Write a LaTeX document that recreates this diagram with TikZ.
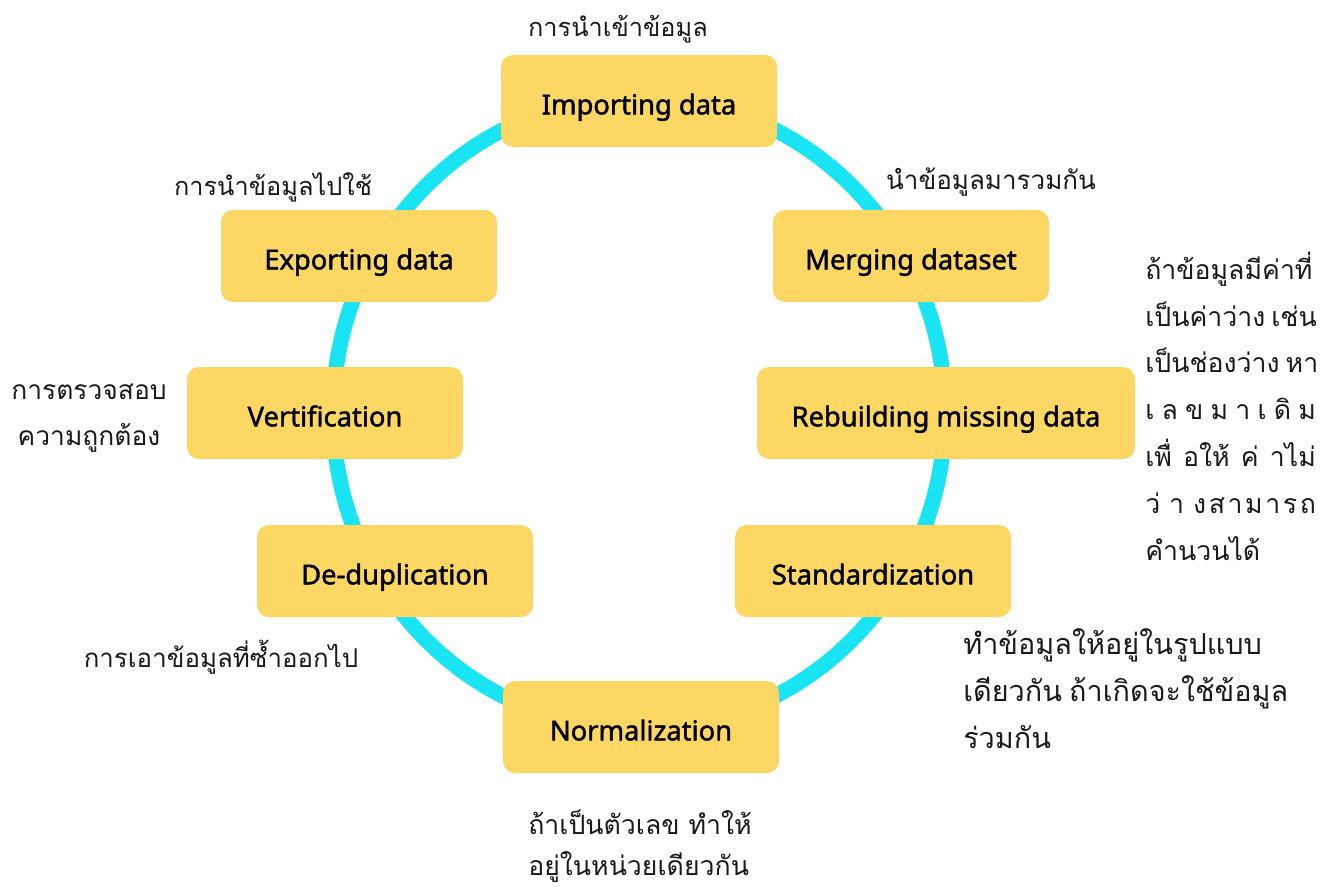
\documentclass[tikz,border=0pt]{standalone}
\usepackage{fontspec}
\setmainfont{Noto Sans}
\newfontfamily\stagefont{Noto Sans}[FakeBold=1.6]
\newfontfamily\thaifont[Script=Thai]{Loma}
\definecolor{boxyellow}{HTML}{FDD764}
\definecolor{ringcyan}{HTML}{19E4F3}
\definecolor{ink}{HTML}{1A1A1A}
\newcommand{\jline}[1]{\makebox[128pt][s]{#1}}
\begin{document}
\begin{tikzpicture}[x=0.75pt,y=-0.75pt,
  stage/.style={fill=boxyellow, rounded corners=9pt, minimum width=207pt, minimum height=69pt, inner sep=0pt, font=\stagefont\fontsize{20.5}{24}\selectfont, text=black, text height=20pt, text depth=0pt},
  note/.style={font=\thaifont\fontsize{19}{28}\selectfont, text=ink, inner sep=0pt},
  bignote/.style={note, font=\thaifont\fontsize{21.6}{30}\selectfont},
  sidenote/.style={note, font=\thaifont\fontsize{20}{30}\selectfont}]
\useasboundingbox (0,0) rectangle (1334,886);
\draw[ringcyan, line width=11.5pt] (639,413) ellipse [x radius=229.5pt, y radius=237pt];
% stages
\node[stage] (imp) at (639,101) {Importing data};
\node[stage] (mer) at (911,256) {Merging dataset};
\node[stage, minimum width=283.5pt] (reb) at (946,413) {Rebuilding missing data};
\node[stage] (sta) at (873,571) {Standardization};
\node[stage] (nor) at (641,727) {Normalization};
\node[stage] (ded) at (395,571) {De-duplication};
\node[stage] (ver) at (325,413) {Vertification};
\node[stage] (exp) at (359,256) {Exporting data};
% notes
\node[note, anchor=base] (limp) at (618,36) {การนำเข้าข้อมูล};
\node[note, anchor=base, font=\thaifont\fontsize{19.5}{28}\selectfont] (lmer) at (991,189) {นำข้อมูลมารวมกัน};
\node[note, anchor=base] (lexp) at (273,195) {การนำข้อมูลไปใช้};
\node[note, anchor=base, font=\thaifont\fontsize{19.8}{28}\selectfont] (lver1) at (89,399) {การตรวจสอบ};
\node[note, anchor=base, font=\thaifont\fontsize{19.8}{28}\selectfont] (lver2) at (89,445) {ความถูกต้อง};
\node[note, anchor=base, font=\thaifont\fontsize{19.4}{28}\selectfont] (lded) at (221,667) {การเอาข้อมูลที่ซ้ำออกไป};
\node[bignote, anchor=base west] (lsta1) at (963,654) {ทำข้อมูลให้อยู่ในรูปแบบ};
\node[bignote, anchor=base west] (lsta2) at (963,701) {เดียวกัน\hspace{0.25em}ถ้าเกิดจะใช้ข้อมูล};
\node[bignote, anchor=base west] (lsta3) at (963,748) {ร่วมกัน};
\node[note, anchor=base west, font=\thaifont\fontsize{20}{28}\selectfont] (lnor1) at (528,834) {ถ้าเป็นตัวเลข ทำให้};
\node[note, anchor=base west, font=\thaifont\fontsize{20}{28}\selectfont] (lnor2) at (528,875) {อยู่ในหน่วยเดียวกัน};
\node[sidenote, anchor=base west] (lreb1) at (1145,279) {ถ้าข้อมูลมีค่าที่};
\node[sidenote, anchor=base west] (lreb2) at (1145,326) {\jline{เป็นค่าว่าง เช่น}};
\node[sidenote, anchor=base west] (lreb3) at (1145,372) {\jline{เป็นช่องว่าง หา}};
\node[sidenote, anchor=base west] (lreb4) at (1145,419) {\jline{เ ล ข ม า เ ดิ ม}};
\node[sidenote, anchor=base west] (lreb5) at (1145,466) {\jline{เพื่ อให้ ค่ าไม่}};
\node[sidenote, anchor=base west] (lreb6) at (1145,513) {\jline{ว่ า ง\hfil ส\hfil า\hfil ม\hfil า\hfil ร\hfil ถ}};
\node[sidenote, anchor=base west] (lreb7) at (1145,560) {คำนวนได้};
\end{tikzpicture}
\end{document}
